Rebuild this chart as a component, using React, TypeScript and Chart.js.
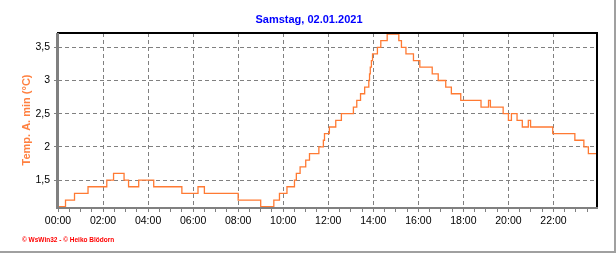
import React, { useEffect, useRef } from "react";
import { Chart, registerables } from "chart.js";

Chart.register(...registerables);

const chartTitle = "Samstag, 02.01.2021";
const yAxisTitle = "Temp. A. min (°C)";
const creditText = "© WsWin32 - © Heiko Blödorn";

// change points: value holds from this time until the next one
const times = [
  "00:00", "00:20", "00:44", "01:20", "02:10", "02:28", "02:56", "03:08", "03:35", "04:15",
  "05:30", "06:13", "06:30", "08:00", "09:00", "09:35", "09:50", "10:10", "10:30", "10:35",
  "10:45", "11:00", "11:10", "11:35", "11:47", "11:50", "12:03", "12:20", "12:35", "13:07",
  "13:16", "13:26", "13:37", "13:48", "13:50", "13:52", "13:55", "13:58", "14:11", "14:20",
  "14:37", "15:08", "15:15", "15:27", "15:47", "16:04", "16:37", "16:53", "17:13", "17:28",
  "17:53", "18:47", "19:07", "19:12", "19:46", "20:00", "20:08", "20:23", "20:37", "20:53",
  "20:59", "21:58", "22:57", "23:21", "23:33", "23:56",
];
const values = [
  1.1, 1.2, 1.3, 1.4, 1.5, 1.6, 1.5, 1.4, 1.5, 1.4,
  1.3, 1.4, 1.3, 1.2, 1.1, 1.2, 1.3, 1.4, 1.5, 1.6,
  1.7, 1.8, 1.9, 2.0, 2.1, 2.2, 2.3, 2.4, 2.5, 2.6,
  2.7, 2.8, 2.9, 3.0, 3.1, 3.2, 3.3, 3.4, 3.5, 3.6,
  3.7, 3.6, 3.5, 3.4, 3.3, 3.2, 3.1, 3.0, 2.9, 2.8,
  2.7, 2.6, 2.7, 2.6, 2.5, 2.4, 2.5, 2.4, 2.3, 2.4,
  2.3, 2.2, 2.1, 2.0, 1.9, 1.9,
];

const xTickLabels = ["00:00", "02:00", "04:00", "06:00", "08:00", "10:00", "12:00", "14:00", "16:00", "18:00", "20:00", "22:00"];
const xMinorStepMin = 30;
const yTicks = [1.5, 2, 2.5, 3, 3.5];
const yTickLabels = ["1,5", "2", "2,5", "3", "3,5"];

const X_MIN = 0;
const X_MAX = 1436;
const Y_MIN = 1.08;
const Y_MAX = 3.715;

const toMin = (s: string) => {
  const [h, m] = s.split(":").map(Number);
  return h * 60 + m;
};

const FONT = "'Liberation Sans', Arial, sans-serif";
const GRID = "#808080";

const decorPlugin = {
  id: "decor",
  beforeDraw(chart: any) {
    const ctx = chart.ctx;
    ctx.save();
    ctx.fillStyle = "#ffffff";
    ctx.fillRect(0, 0, chart.width, chart.height);
    ctx.restore();
  },
  afterDraw(chart: any) {
    const ctx = chart.ctx;
    const a = chart.chartArea;
    ctx.save();
    // frame
    ctx.fillStyle = "#000000";
    ctx.fillRect(a.left - 1, a.top - 1, a.right - a.left + 2, 2);
    ctx.fillRect(a.right - 1, a.top - 1, 2, a.bottom - a.top + 2);
    ctx.fillStyle = GRID;
    ctx.fillRect(a.left - 2, a.top, 3, a.bottom - a.top + 1);
    ctx.fillRect(a.left - 2, a.bottom - 1, a.right - a.left + 3, 2);
    // outer border
    ctx.fillStyle = "#a0a0a0";
    ctx.fillRect(chart.width - 2, 0, 2, chart.height);
    ctx.fillRect(0, chart.height - 2, chart.width, 2);
    // title
    ctx.fillStyle = "#0000ff";
    ctx.font = `bold 11px ${FONT}`;
    ctx.textAlign = "center";
    ctx.textBaseline = "alphabetic";
    ctx.fillText(chartTitle, 309, 23.3);
    // y title
    ctx.save();
    ctx.translate(29.5, 120);
    ctx.rotate(-Math.PI / 2);
    ctx.fillStyle = "#ff8040";
    ctx.font = `bold 11px ${FONT}`;
    ctx.textAlign = "center";
    ctx.fillText(yAxisTitle, 0, 0);
    ctx.restore();
    // credit
    ctx.fillStyle = "#ff0000";
    ctx.font = `bold 6.5px ${FONT}`;
    ctx.textAlign = "left";
    ctx.fillText(creditText, 22, 241.5);
    ctx.restore();
  },
};

export default function App() {
  const ref = useRef<HTMLCanvasElement | null>(null);
  useEffect(() => {
    document.body.style.margin = "0";
    const canvas = ref.current;
    if (!canvas) return;
    const points = times.map((t, i) => ({ x: toMin(t), y: values[i] }));
    const chart = new Chart(canvas, {
      type: "line",
      data: {
        datasets: [
          {
            data: points,
            borderColor: "#ff7a33",
            borderWidth: 1.3,
            pointRadius: 0,
            stepped: true,
            fill: false,
          },
        ],
      },
      options: {
        animation: false,
        responsive: false,
        events: [],
        layout: { padding: { left: 0, right: 19, top: 33, bottom: 0 } },
        plugins: {
          legend: { display: false },
          tooltip: { enabled: false },
          title: { display: false },
        },
        scales: {
          x: {
            type: "linear",
            min: X_MIN,
            max: X_MAX,
            afterFit: (s: any) => {
              s.height = 45;
            },
            afterBuildTicks: (s: any) => {
              const ticks = [];
              for (let v = 0; v <= X_MAX; v += xMinorStepMin) ticks.push({ value: v });
              s.ticks = ticks;
            },
            ticks: {
              autoSkip: false,
              maxRotation: 0,
              padding: 3,
              color: "#000",
              font: { family: FONT, size: 10.5 },
              callback: (v: any) => {
                const n = Number(v);
                if (n % 120 !== 0) return "";
                return xTickLabels[n / 120] ?? "";
              },
            },
            grid: {
              color: (c: any) => {
                const v = c.tick ? c.tick.value : 0;
                return v % 120 === 0 && v > 0 ? GRID : "rgba(0,0,0,0)";
              },
              tickColor: GRID,
              tickLength: 4,
              lineWidth: 1,
            },
            border: { display: false, dash: [4, 3] },
          },
          y: {
            type: "linear",
            min: Y_MIN,
            max: Y_MAX,
            afterFit: (s: any) => {
              s.width = 58;
            },
            afterBuildTicks: (s: any) => {
              s.ticks = yTicks.map((v) => ({ value: v }));
            },
            ticks: {
              padding: 4,
              color: "#000",
              font: { family: FONT, size: 10.5 },
              callback: (_v: any, i: number) => yTickLabels[i],
            },
            grid: {
              color: GRID,
              tickColor: GRID,
              tickLength: 4,
              lineWidth: 1,
            },
            border: { display: false, dash: [4, 3] },
          },
        },
      },
      plugins: [decorPlugin],
    });
    return () => chart.destroy();
  }, []);
  return (
    <div style={{ position: "absolute", left: 0, top: 0, width: 616, height: 253, background: "#fff" }}>
      <canvas ref={ref} width={616} height={253} style={{ display: "block" }} />
    </div>
  );
}
